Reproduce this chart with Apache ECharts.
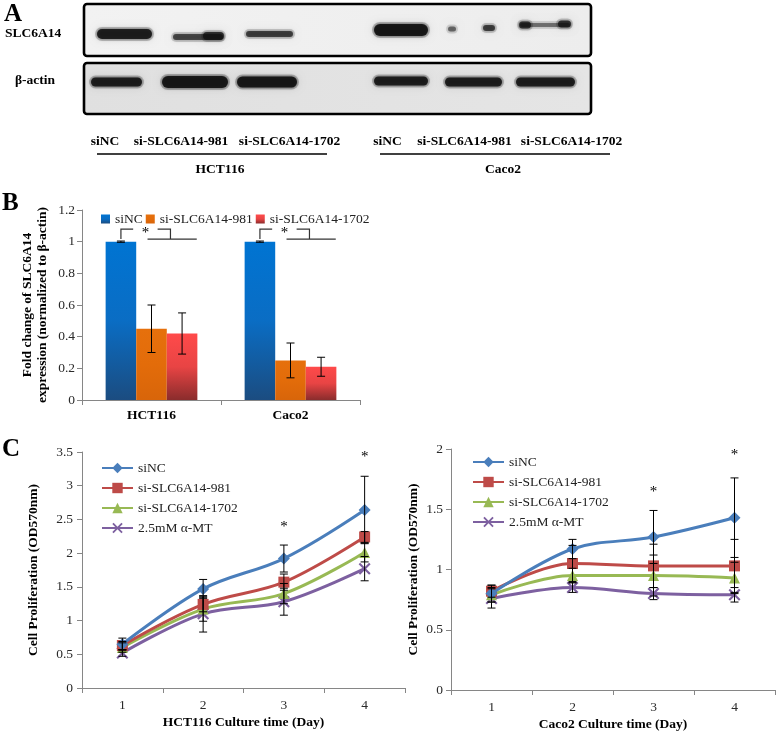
<!DOCTYPE html>
<html><head><meta charset="utf-8">
<script src="https://cdn.jsdelivr.net/npm/echarts@6/dist/echarts.min.js"></script>
<style>html,body{margin:0;padding:0;background:#fff}#c{width:777px;height:734px}</style>
</head><body><div id="c"></div>
<script>
// ---------- DATA ----------
// Panel A (western blot labels)
const blotGroups = ['HCT116', 'Caco2'];
const blotLanes = ['siNC', 'si-SLC6A14-981', 'si-SLC6A14-1702'];
const blotRows = ['SLC6A14', 'β-actin'];

// Panel B
const barCategories = ['HCT116', 'Caco2'];
const barNames = ['siNC', 'si-SLC6A14-981', 'si-SLC6A14-1702'];
const barSiNC = [1.0, 1.0];
const barSi981 = [0.45, 0.25];
const barSi1702 = [0.42, 0.21];
const errSiNC = [0.004, 0.004];
const errSi981 = [0.15, 0.11];
const errSi1702 = [0.13, 0.06];

// Panel C
const days = ['1', '2', '3', '4'];
const lineNames = ['siNC', 'si-SLC6A14-981', 'si-SLC6A14-1702', '2.5mM α-MT'];
const hctSiNC = [0.65, 1.47, 1.92, 2.64];
const hctSi981 = [0.63, 1.24, 1.57, 2.24];
const hctSi1702 = [0.60, 1.17, 1.40, 2.01];
const hctMT = [0.52, 1.10, 1.28, 1.77];
const hctErrSiNC = [0.09, 0.14, 0.20, 0.50];
const hctErrSi981 = [0.06, 0.11, 0.12, 0.08];
const hctErrSi1702 = [0.07, 0.18, 0.15, 0.14];
const hctErrMT = [0.05, 0.27, 0.20, 0.18];
const hctStarDays = ['3', '4'];
const hctStarY = [2.39, 3.43];

const cacoSiNC = [0.80, 1.17, 1.27, 1.43];
const cacoSi981 = [0.82, 1.05, 1.03, 1.03];
const cacoSi1702 = [0.79, 0.95, 0.95, 0.93];
const cacoMT = [0.76, 0.85, 0.80, 0.79];
const cacoErrSiNC = [0.07, 0.08, 0.22, 0.33];
const cacoErrSi981 = [0.05, 0.15, 0.18, 0.22];
const cacoErrSi1702 = [0.06, 0.06, 0.17, 0.13];
const cacoErrMT = [0.08, 0.04, 0.05, 0.06];
const cacoStarDays = ['3', '4'];
const cacoStarY = [1.64, 1.95];

// ---------- STYLE / LAYOUT ----------
const FONT = 'Liberation Serif';
const AXIS_GRAY = '#868686';
const lineColors = ['#4A7EBB', '#BE4B48', '#98B954', '#7D60A0'];
const xPath = 'path://M1.5,0 L6,4.5 L10.5,0 L12,1.5 L7.5,6 L12,10.5 L10.5,12 L6,7.5 L1.5,12 L0,10.5 L4.5,6 L0,1.5 Z';
const lineSymbols = ['diamond', 'rect', 'triangle', xPath];
const lineSymbolSizes = [12, 11, 11, 12];
const BAR_GAP = 0.34;

function grad(stops) {
  return new echarts.graphic.LinearGradient(0, 0, 0, 1, stops.map((c, i) => ({ offset: i / (stops.length - 1), color: c })));
}
const barColors = [
  grad(['#0074D2', '#0A6DC4', '#1B4C80']),
  grad(['#E6700C', '#E36C0A', '#D8650A']),
  grad(['#FF4A4A', '#E84444', '#8A2C2C'])
];

// ---------- PANEL A GRAPHICS ----------
const graphics = [];
function txt(x, y, s, size, bold, align) {
  graphics.push({ type: 'text', x, y, style: { text: s, fontFamily: FONT, fontSize: size, fontWeight: bold ? 'bold' : 'normal', fill: '#000', align: align || 'left', verticalAlign: 'middle' }, z: 100 });
}
// blot boxes
graphics.push({ type: 'rect', shape: { x: 84, y: 4, width: 507, height: 52, r: 3 },
  style: { fill: new echarts.graphic.LinearGradient(0, 0, 1, 0, [{ offset: 0, color: '#f2f2f2' }, { offset: 1, color: '#ededed' }]), stroke: '#000', lineWidth: 2.6 }, z: 10 });
graphics.push({ type: 'rect', shape: { x: 84, y: 63, width: 507, height: 51, r: 3 },
  style: { fill: new echarts.graphic.LinearGradient(0, 0, 1, 0, [{ offset: 0, color: '#e0e0e0' }, { offset: 1, color: '#e5e5e5' }]), stroke: '#000', lineWidth: 2.6 }, z: 10 });
function band(x1, x2, cy, h, a) {
  // soft halo
  graphics.push({ type: 'rect', shape: { x: x1 - 2, y: cy - h / 2 - 2, width: x2 - x1 + 4, height: h + 4, r: h / 2 + 2 },
    style: { fill: 'rgba(40,40,40,' + (a * 0.25) + ')', shadowBlur: 6, shadowColor: 'rgba(0,0,0,' + (a * 0.35) + ')' }, z: 11 });
  // core
  graphics.push({ type: 'rect', shape: { x: x1, y: cy - h / 2, width: x2 - x1, height: h, r: h / 2 },
    style: { fill: 'rgba(15,15,15,' + (a * 0.9) + ')', shadowBlur: 3, shadowColor: 'rgba(0,0,0,' + (a * 0.6) + ')' }, z: 12 });
}
// SLC6A14 row
band(97, 152, 34, 10, 0.95);
band(173, 223, 37, 6, 0.7); band(203, 224, 36, 8, 0.8);
band(246, 293, 34, 6, 0.75);
band(374, 428, 30, 12, 1);
band(448, 456, 29, 5, 0.55); band(483, 495, 28, 6, 0.75);
band(520, 570, 25, 4, 0.5); band(519, 531, 25, 7, 0.8); band(558, 571, 24, 7, 0.8);
// beta-actin row
band(91, 142, 82, 9, 0.95);
band(162, 228, 82, 12, 1);
band(237, 297, 82, 11, 1);
band(374, 428, 81, 9, 0.95);
band(445, 502, 82, 9, 0.95);
band(516, 575, 82, 9, 0.95);

txt(4, 15, 'A', 25, true);
txt(5, 34, blotRows[0], 13.5, true);
txt(15, 81, blotRows[1], 13.5, true);
const laneCenters = [[105, 181, 289.5], [387.5, 464.5, 571.5]];
laneCenters.forEach((grp, g) => {
  grp.forEach((cx, i) => txt(cx, 142, blotLanes[i], 13.5, true, 'center'));
});
graphics.push({ type: 'line', shape: { x1: 97, y1: 154, x2: 327, y2: 154 }, style: { stroke: '#000', lineWidth: 1.3 }, z: 10 });
graphics.push({ type: 'line', shape: { x1: 380, y1: 154, x2: 610, y2: 154 }, style: { stroke: '#000', lineWidth: 1.3 }, z: 10 });
txt(220, 170, blotGroups[0], 13.5, true, 'center');
txt(503, 170, blotGroups[1], 13.5, true, 'center');
txt(2, 204, 'B', 25, true);
txt(2, 450, 'C', 25, true);

// ---------- HELPERS ----------
function errorRender(params, api) {
  const x = api.value(0), lo = api.value(1), hi = api.value(2);
  const off = api.value(3);
  const pLo = api.coord([x, lo]), pHi = api.coord([x, hi]);
  let cx = pLo[0];
  if (!isNaN(off)) {
    const bw = api.size([1, 0])[0] * (1 - BAR_GAP) / 3;
    cx += (off - 1) * bw;
  }
  const cap = 4;
  const st = { stroke: '#000', lineWidth: 1 };
  return { type: 'group', children: [
    { type: 'line', shape: { x1: cx, y1: pLo[1], x2: cx, y2: pHi[1] }, style: st },
    { type: 'line', shape: { x1: cx - cap, y1: pLo[1], x2: cx + cap, y2: pLo[1] }, style: st },
    { type: 'line', shape: { x1: cx - cap, y1: pHi[1], x2: cx + cap, y2: pHi[1] }, style: st }
  ] };
}
function errData(vals, errs, k) {
  return vals.map((v, i) => k === undefined ? [i, v - errs[i], v + errs[i]] : [i, v - errs[i], v + errs[i], k]);
}
function starRender(params, api) {
  const p = api.coord([api.value(0), api.value(1)]);
  return { type: 'text', x: p[0], y: p[1], style: { text: '*', fontFamily: FONT, fontSize: 15, fill: '#000', align: 'center', verticalAlign: 'middle' } };
}
function bracketRender(params, api) {
  const c = api.value(0), top = api.value(1);
  const p = api.coord([c, top]);
  const bw = api.size([1, 0])[0] * (1 - BAR_GAP) / 3;
  const cx = p[0];
  const yB = p[1] - 2, yT = p[1] - 12;
  const st = { stroke: '#333', lineWidth: 1.2 };
  const X = f => cx + f * bw;
  return { type: 'group', children: [
    { type: 'polyline', shape: { points: [[X(-1.0), yB], [X(-1.0), yT], [X(-0.6), yT]] }, style: Object.assign({ fill: null }, st) },
    { type: 'polyline', shape: { points: [[X(0.2), yT], [X(0.62), yT], [X(0.62), yB]] }, style: Object.assign({ fill: null }, st) },
    { type: 'line', shape: { x1: X(-0.13), y1: yB, x2: X(1.48), y2: yB }, style: st },
    { type: 'text', x: X(-0.2), y: yT + 4, style: { text: '*', fontFamily: FONT, fontSize: 15, fill: '#000', align: 'center', verticalAlign: 'middle' } }
  ] };
}

const barVals = [barSiNC, barSi981, barSi1702];
const barErrs = [errSiNC, errSi981, errSi1702];
const hctVals = [hctSiNC, hctSi981, hctSi1702, hctMT];
const hctErrs = [hctErrSiNC, hctErrSi981, hctErrSi1702, hctErrMT];
const cacoVals = [cacoSiNC, cacoSi981, cacoSi1702, cacoMT];
const cacoErrs = [cacoErrSiNC, cacoErrSi981, cacoErrSi1702, cacoErrMT];

const series = [];
barNames.forEach((n, k) => {
  series.push({ type: 'bar', name: 'B|' + n, xAxisIndex: 0, yAxisIndex: 0, data: barVals[k],
    barGap: '0%', barCategoryGap: (BAR_GAP * 100) + '%', itemStyle: { color: barColors[k] }, z: 2 });
});
barNames.forEach((n, k) => {
  series.push({ type: 'custom', xAxisIndex: 0, yAxisIndex: 0, renderItem: errorRender,
    encode: { x: 0, y: [1, 2] }, data: errData(barVals[k], barErrs[k], k), z: 5 });
});
series.push({ type: 'custom', xAxisIndex: 0, yAxisIndex: 0, renderItem: bracketRender, encode: { x: 0, y: 1 },
  data: barCategories.map((c, i) => [i, Math.max(barSiNC[i] + errSiNC[i], barSi981[i], barSi1702[i])]), z: 5 });

function addLines(prefix, vals, errs, axis, starDays, starY) {
  lineNames.forEach((n, k) => {
    series.push({ type: 'line', name: prefix + '|' + n, xAxisIndex: axis, yAxisIndex: axis, data: vals[k],
      smooth: 0.35, symbol: lineSymbols[k], symbolSize: lineSymbolSizes[k], showAllSymbol: true,
      lineStyle: { color: lineColors[k], width: 3 }, itemStyle: { color: lineColors[k] }, z: 3 + (3 - k) });
  });
  lineNames.forEach((n, k) => {
    series.push({ type: 'custom', xAxisIndex: axis, yAxisIndex: axis, renderItem: errorRender,
      encode: { x: 0, y: [1, 2] }, data: errData(vals[k], errs[k]), z: 10 });
  });
  series.push({ type: 'custom', xAxisIndex: axis, yAxisIndex: axis, renderItem: starRender, encode: { x: 0, y: 1 },
    data: starDays.map((d, i) => [days.indexOf(d), starY[i]]), z: 10 });
}
addLines('H', hctVals, hctErrs, 1, hctStarDays, hctStarY);
addLines('C', cacoVals, cacoErrs, 2, cacoStarDays, cacoStarY);

const tickLbl = { fontFamily: FONT, fontSize: 13.5, color: '#2a2a2a' };
const axLine = { show: true, lineStyle: { color: AXIS_GRAY, width: 1 } };
const axTick = { show: true, length: 5, lineStyle: { color: AXIS_GRAY } };
const nameStyle = { fontFamily: FONT, fontSize: 13.5, fontWeight: 'bold', color: '#000' };

const option = {
  animation: false,
  backgroundColor: '#fff',
  graphic: graphics,
  grid: [
    { left: 82, top: 210, width: 278, height: 190 },
    { left: 82, top: 452, width: 323, height: 236 },
    { left: 451, top: 449, width: 324, height: 241 }
  ],
  legend: [
    { left: 96, top: 207, itemWidth: 9, itemHeight: 9, itemGap: 3, icon: 'rect',
      data: barNames.map(n => 'B|' + n), formatter: s => s.split('|')[1],
      textStyle: { fontFamily: FONT, fontSize: 13.5, color: '#222' } },
    { left: 96, top: 456, orient: 'vertical', itemWidth: 31, itemHeight: 13, itemGap: 6,
      data: lineNames.map(n => 'H|' + n), formatter: s => s.split('|')[1],
      textStyle: { fontFamily: FONT, fontSize: 13.5, color: '#222', lineHeight: 14 } },
    { left: 467, top: 450, orient: 'vertical', itemWidth: 31, itemHeight: 13, itemGap: 6,
      data: lineNames.map(n => 'C|' + n), formatter: s => s.split('|')[1],
      textStyle: { fontFamily: FONT, fontSize: 13.5, color: '#222', lineHeight: 14 } }
  ],
  xAxis: [
    { gridIndex: 0, type: 'category', data: barCategories, axisLine: axLine, axisTick: axTick,
      axisLabel: { fontFamily: FONT, fontSize: 13.5, fontWeight: 'bold', color: '#000', margin: 9 } },
    { gridIndex: 1, type: 'category', data: days, axisLine: axLine, axisTick: axTick,
      axisLabel: Object.assign({ margin: 10 }, tickLbl),
      name: 'HCT116 Culture time (Day)', nameLocation: 'middle', nameGap: 28, nameTextStyle: nameStyle },
    { gridIndex: 2, type: 'category', data: days, axisLine: axLine, axisTick: axTick,
      axisLabel: Object.assign({ margin: 10 }, tickLbl),
      name: 'Caco2 Culture time (Day)', nameLocation: 'middle', nameGap: 28, nameTextStyle: nameStyle }
  ],
  yAxis: [
    { gridIndex: 0, type: 'value', min: 0, max: 1.2, interval: 0.2, axisLine: axLine, axisTick: axTick,
      splitLine: { show: false }, axisLabel: Object.assign({ margin: 7 }, tickLbl),
      name: 'Fold change of SLC6A14\nexpression (normalized to β-actin)', nameLocation: 'middle', nameGap: 32,
      nameTextStyle: Object.assign({ lineHeight: 15 }, nameStyle) },
    { gridIndex: 1, type: 'value', min: 0, max: 3.5, interval: 0.5, axisLine: axLine, axisTick: axTick,
      splitLine: { show: false }, axisLabel: Object.assign({ margin: 9 }, tickLbl),
      name: 'Cell Proliferation (OD570nm)', nameLocation: 'middle', nameGap: 41, nameTextStyle: nameStyle },
    { gridIndex: 2, type: 'value', min: 0, max: 2, interval: 0.5, axisLine: axLine, axisTick: axTick,
      splitLine: { show: false }, axisLabel: Object.assign({ margin: 8 }, tickLbl),
      name: 'Cell Proliferation (OD570nm)', nameLocation: 'middle', nameGap: 30, nameTextStyle: nameStyle }
  ],
  series: series
};
const chart = echarts.init(document.getElementById('c'), null, { renderer: 'canvas', width: 777, height: 734 });
chart.setOption(option);
</script></body></html>
